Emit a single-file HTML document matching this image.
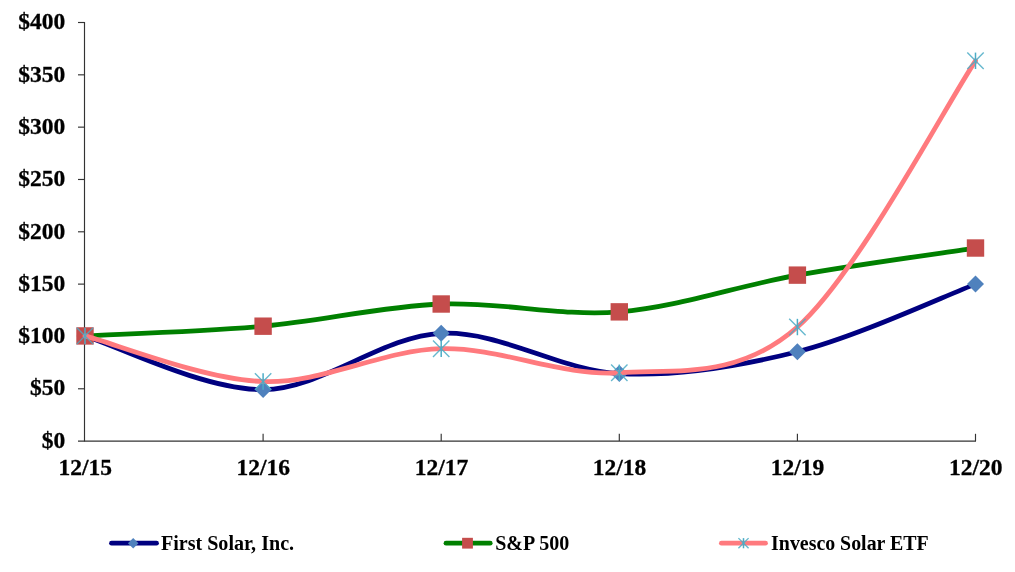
<!DOCTYPE html>
<html><head><meta charset="utf-8"><title>Chart</title>
<style>html,body{margin:0;padding:0;background:#fff}svg{display:block}</style></head>
<body>
<svg width="1015" height="572" viewBox="0 0 1015 572">
<rect width="1015" height="572" fill="#fff"/>
<g stroke="#333333" stroke-width="1.15" fill="none">
<path d="M84.50 22.00 V441.60"/>
<path d="M78.00 441.10 H976.00"/>
<path d="M78.00 22.50 H84.50"/>
<path d="M78.00 74.83 H84.50"/>
<path d="M78.00 127.15 H84.50"/>
<path d="M78.00 179.48 H84.50"/>
<path d="M78.00 231.80 H84.50"/>
<path d="M78.00 284.12 H84.50"/>
<path d="M78.00 336.45 H84.50"/>
<path d="M78.00 388.78 H84.50"/>
<path d="M263.10 433.80 V441.10"/>
<path d="M441.20 433.80 V441.10"/>
<path d="M619.30 433.80 V441.10"/>
<path d="M797.40 433.80 V441.10"/>
<path d="M975.50 433.80 V441.10"/>
</g>
<path d="M85.00 335.93 C114.68 344.87 203.73 390.05 263.10 389.61 C322.47 389.18 381.83 335.98 441.20 333.31 C500.57 330.64 559.93 370.53 619.30 373.60 C678.67 376.67 738.03 366.64 797.40 351.73 C856.77 336.82 945.82 295.39 975.50 284.12" stroke="#000080" stroke-width="4.8" fill="none" stroke-linecap="round" stroke-linejoin="round"/>
<path d="M85.00 327.43 L93.50 335.93 L85.00 344.43 L76.50 335.93Z" fill="#4F81BD"/>
<path d="M263.10 381.11 L271.60 389.61 L263.10 398.11 L254.60 389.61Z" fill="#4F81BD"/>
<path d="M441.20 324.81 L449.70 333.31 L441.20 341.81 L432.70 333.31Z" fill="#4F81BD"/>
<path d="M619.30 365.10 L627.80 373.60 L619.30 382.10 L610.80 373.60Z" fill="#4F81BD"/>
<path d="M797.40 343.23 L805.90 351.73 L797.40 360.23 L788.90 351.73Z" fill="#4F81BD"/>
<path d="M975.50 275.62 L984.00 284.12 L975.50 292.62 L967.00 284.12Z" fill="#4F81BD"/>
<path d="M85.00 335.93 C114.68 334.30 203.73 331.51 263.10 326.19 C322.47 320.87 381.83 306.40 441.20 304.01 C500.57 301.62 559.93 316.67 619.30 311.86 C678.67 307.04 738.03 285.76 797.40 275.13 C856.77 264.49 945.82 252.54 975.50 248.02" stroke="#008000" stroke-width="4.8" fill="none" stroke-linecap="round" stroke-linejoin="round"/>
<rect x="76.30" y="327.23" width="17.40" height="17.40" fill="#C54D4C"/>
<rect x="254.40" y="317.49" width="17.40" height="17.40" fill="#C54D4C"/>
<rect x="432.50" y="295.31" width="17.40" height="17.40" fill="#C54D4C"/>
<rect x="610.60" y="303.16" width="17.40" height="17.40" fill="#C54D4C"/>
<rect x="788.70" y="266.43" width="17.40" height="17.40" fill="#C54D4C"/>
<rect x="966.80" y="239.32" width="17.40" height="17.40" fill="#C54D4C"/>
<path d="M85.00 335.93 C114.68 343.53 203.73 379.43 263.10 381.55 C322.47 383.68 381.83 350.16 441.20 348.69 C500.57 347.23 559.93 376.37 619.30 372.76 C678.67 369.15 738.03 379.03 797.40 327.03 C856.77 275.04 945.82 105.17 975.50 60.80" stroke="#FF7A7E" stroke-width="4.8" fill="none" stroke-linecap="round" stroke-linejoin="round"/>
<path d="M76.80 327.73 L93.20 344.13 M93.20 327.73 L76.80 344.13" stroke="#4BACC6" stroke-width="1.4" stroke-opacity="0.85" fill="none"/><path d="M85.00 327.73 L85.00 344.13" stroke="#4BACC6" stroke-width="1.5" fill="none"/>
<path d="M254.90 373.35 L271.30 389.75 M271.30 373.35 L254.90 389.75" stroke="#4BACC6" stroke-width="1.4" stroke-opacity="0.85" fill="none"/><path d="M263.10 373.35 L263.10 389.75" stroke="#4BACC6" stroke-width="1.5" fill="none"/>
<path d="M433.00 340.49 L449.40 356.89 M449.40 340.49 L433.00 356.89" stroke="#4BACC6" stroke-width="1.4" stroke-opacity="0.85" fill="none"/><path d="M441.20 340.49 L441.20 356.89" stroke="#4BACC6" stroke-width="1.5" fill="none"/>
<path d="M611.10 364.56 L627.50 380.96 M627.50 364.56 L611.10 380.96" stroke="#4BACC6" stroke-width="1.4" stroke-opacity="0.85" fill="none"/><path d="M619.30 364.56 L619.30 380.96" stroke="#4BACC6" stroke-width="1.5" fill="none"/>
<path d="M789.20 318.83 L805.60 335.23 M805.60 318.83 L789.20 335.23" stroke="#4BACC6" stroke-width="1.4" stroke-opacity="0.85" fill="none"/><path d="M797.40 318.83 L797.40 335.23" stroke="#4BACC6" stroke-width="1.5" fill="none"/>
<path d="M967.30 52.60 L983.70 69.00 M983.70 52.60 L967.30 69.00" stroke="#4BACC6" stroke-width="1.4" stroke-opacity="0.85" fill="none"/><path d="M975.50 52.60 L975.50 69.00" stroke="#4BACC6" stroke-width="1.5" fill="none"/>
<g font-family="'Liberation Serif', serif" font-weight="bold" font-size="22.6" fill="#000" stroke="#000" stroke-width="0.3">
<text transform="translate(65.3 29.20) scale(1.040 1)" text-anchor="end">$400</text>
<text transform="translate(65.3 81.53) scale(1.040 1)" text-anchor="end">$350</text>
<text transform="translate(65.3 133.85) scale(1.040 1)" text-anchor="end">$300</text>
<text transform="translate(65.3 186.18) scale(1.040 1)" text-anchor="end">$250</text>
<text transform="translate(65.3 238.50) scale(1.040 1)" text-anchor="end">$200</text>
<text transform="translate(65.3 290.82) scale(1.040 1)" text-anchor="end">$150</text>
<text transform="translate(65.3 343.15) scale(1.040 1)" text-anchor="end">$100</text>
<text transform="translate(65.3 395.48) scale(1.040 1)" text-anchor="end">$50</text>
<text transform="translate(65.3 447.80) scale(1.040 1)" text-anchor="end">$0</text>
<text transform="translate(85.20 474.8) scale(1.040 1)" text-anchor="middle">12/15</text>
<text transform="translate(263.30 474.8) scale(1.040 1)" text-anchor="middle">12/16</text>
<text transform="translate(441.40 474.8) scale(1.040 1)" text-anchor="middle">12/17</text>
<text transform="translate(619.50 474.8) scale(1.040 1)" text-anchor="middle">12/18</text>
<text transform="translate(797.60 474.8) scale(1.040 1)" text-anchor="middle">12/19</text>
<text transform="translate(975.70 474.8) scale(1.040 1)" text-anchor="middle">12/20</text>
</g>
<path d="M111.5 543.2 H156.5" stroke="#000080" stroke-width="4.8" stroke-linecap="round"/>
<path d="M133.20 537.93 L138.47 543.20 L133.20 548.47 L127.93 543.20Z" fill="#4F81BD"/>
<text x="160.9" y="549.6" font-family="'Liberation Serif', serif" font-weight="bold" font-size="20.4" textLength="133.2" lengthAdjust="spacingAndGlyphs" fill="#000">First Solar, Inc.</text>
<path d="M446.0 543.2 H490.2" stroke="#008000" stroke-width="4.8" stroke-linecap="round"/>
<rect x="462.11" y="537.81" width="10.79" height="10.79" fill="#C54D4C"/>
<text x="495.2" y="549.6" font-family="'Liberation Serif', serif" font-weight="bold" font-size="20.4" textLength="74.0" lengthAdjust="spacingAndGlyphs" fill="#000">S&amp;P 500</text>
<path d="M721.4 543.2 H765.5" stroke="#FF7A7E" stroke-width="4.8" stroke-linecap="round"/>
<path d="M738.42 538.12 L748.58 548.28 M748.58 538.12 L738.42 548.28" stroke="#4BACC6" stroke-width="1.4" stroke-opacity="0.85" fill="none"/><path d="M743.50 538.12 L743.50 548.28" stroke="#4BACC6" stroke-width="1.5" fill="none"/>
<text x="771.1" y="549.6" font-family="'Liberation Serif', serif" font-weight="bold" font-size="20.4" textLength="157.6" lengthAdjust="spacingAndGlyphs" fill="#000">Invesco Solar ETF</text>
</svg>
</body></html>
